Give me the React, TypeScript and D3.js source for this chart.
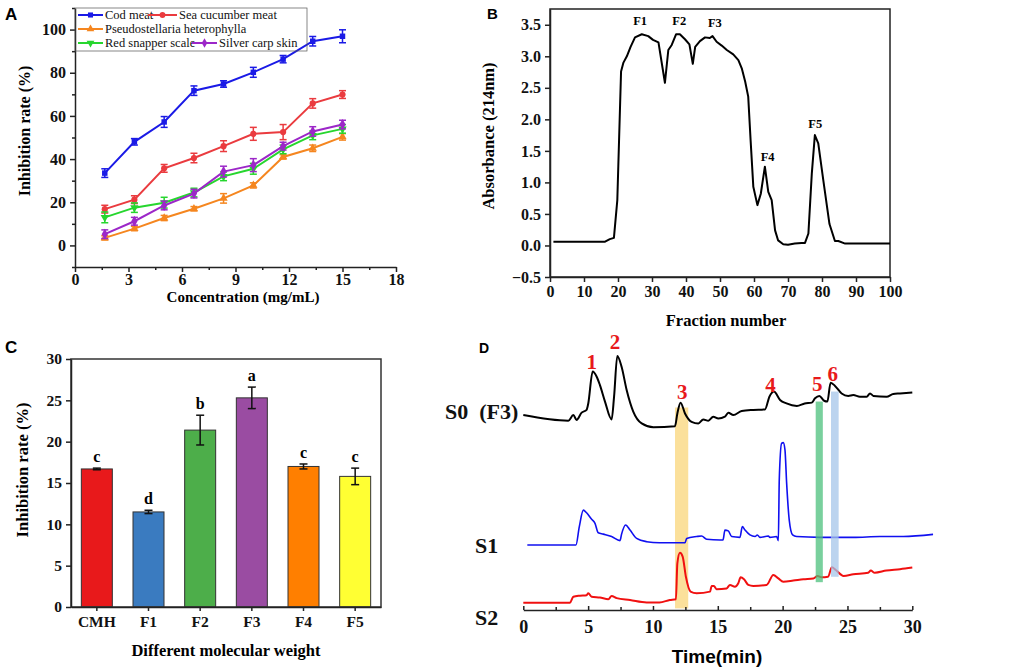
import { useEffect, useRef } from "react";
import * as d3 from "d3";

const SERIF = "'Liberation Serif', 'Times New Roman', serif";
const SANS = "'Liberation Sans', Arial, sans-serif";

// ---- panel A: inhibition vs concentration
const concentrations = [1.67, 3.33, 5, 6.67, 8.33, 10, 11.67, 13.33, 15];
const seriesNamesA = [
  "Cod meat",
  "Sea cucumber meat",
  "Pseudostellaria heterophylla",
  "Red snapper scale",
  "Silver carp skin",
];
const codMeat = [33.5, 48.0, 57.2, 71.7, 74.8, 80.2, 86.3, 94.6, 96.9];
const codMeatErr = [2.0, 1.5, 2.5, 2.2, 1.5, 2.3, 1.7, 2.2, 3.0];
const seaCucumber = [16.8, 21.2, 35.7, 40.5, 46.0, 51.7, 52.5, 65.8, 69.9];
const seaCucumberErr = [1.8, 1.8, 1.8, 2.2, 2.5, 3.0, 3.5, 2.2, 1.8];
const pseudostellaria = [3.5, 7.8, 12.7, 17.0, 21.8, 27.8, 41.0, 45.0, 50.3];
const pseudostellariaErr = [1.0, 1.0, 1.2, 1.0, 2.2, 1.2, 1.0, 1.5, 1.5];
const redSnapper = [13.0, 17.5, 19.8, 24.5, 32.0, 35.5, 44.5, 51.0, 54.0];
const redSnapperErr = [2.5, 2.2, 2.5, 2.0, 2.0, 2.5, 2.0, 2.0, 2.0];
const silverCarp = [5.2, 11.2, 18.5, 24.0, 34.2, 37.2, 46.0, 52.8, 56.0];
const silverCarpErr = [2.0, 1.8, 2.0, 2.0, 2.5, 3.0, 1.8, 2.2, 2.0];

// ---- panel B: gel filtration profile
const fractionNo = [
  1, 16.2, 17.6, 18.8, 19.8, 20.9, 21.6, 22.6, 23.7, 25, 27, 28.9, 30.3, 31.9,
  33.8, 34.8, 35.8, 37.1, 38.2, 39.7, 41, 42, 42.7, 44.1, 45.6, 47, 47.8, 49,
  50.5, 52, 53.9, 55.4, 56.4, 57.4, 58.3, 59, 59.8, 61, 62, 63.2, 64.2, 65.2,
  66.2, 67.1, 68.6, 70, 72, 74, 75, 76, 77, 77.9, 78.9, 80.4, 82.2, 83.8, 84.8,
  86.8, 89.7, 100,
];
const absorbance = [
  0.06, 0.06, 0.1, 0.12, 0.72, 2.76, 2.9, 3.0, 3.15, 3.3, 3.35, 3.32, 3.26, 3.22,
  2.58, 3.1, 3.18, 3.35, 3.35, 3.27, 3.19, 2.88, 3.15, 3.24, 3.3, 3.29, 3.32,
  3.23, 3.17, 3.1, 3.03, 2.94, 2.81, 2.6, 2.36, 1.67, 0.93, 0.64, 0.82, 1.25,
  0.85, 0.72, 0.24, 0.08, 0.02, 0.01, 0.03, 0.04, 0.04, 0.19, 1.14, 1.75, 1.62,
  1.03, 0.34, 0.07, 0.07, 0.03, 0.03, 0.03,
];
const fractionLabels = ["F1", "F2", "F3", "F4", "F5"];
const fractionLabelX = [26.5, 38, 48.5, 64, 78];
const fractionLabelY = [3.5, 3.5, 3.47, 1.34, 1.86];

// ---- panel C: inhibition by molecular weight fraction
const groupsC = ["CMH", "F1", "F2", "F3", "F4", "F5"];
const inhibitionC = [16.7, 11.5, 21.4, 25.3, 17.0, 15.8];
const inhibitionErrC = [0.1, 0.2, 1.8, 1.3, 0.3, 1.0];
const lettersC = ["c", "d", "b", "a", "c", "c"];
const colorsC = ["#e8191b", "#3a7bc0", "#4dae4a", "#9a4ca2", "#ff7f00", "#ffff33"];

// ---- panel D: RP-HPLC chromatograms
const s0Time = [
  0, 3.47, 3.86, 4.11, 4.5, 4.88, 5.01, 5.35, 5.66, 5.91, 6.3, 6.81, 7.0, 7.25,
  7.58, 7.97, 8.48, 9.13, 10.03, 11.7, 11.88, 12.13, 12.47, 12.98, 13.5, 13.88,
  14.27, 14.65, 15.04, 15.55, 15.81, 16.2, 16.84, 17.74, 18.64, 18.98, 19.33,
  19.8, 20.3, 21.1, 21.7, 22.25, 22.5, 22.83, 23.2, 23.45, 23.7, 24.04, 24.55,
  25.06, 25.45, 25.96, 26.48, 26.74, 27, 28.02, 28.53, 29.05, 30,
];
const s0Signal = [
  72.2, 70.1, 72.2, 70.4, 73.1, 74.1, 76.5, 88.3, 86.4, 83.3, 77.2, 70.6, 79,
  94.1, 90.1, 81.5, 73.5, 69.1, 67.7, 68.1, 72.8, 76.8, 72.8, 69.7, 69.1, 70.6,
  70.1, 71.6, 70.9, 71.6, 73.1, 72.2, 73.7, 74.1, 74.3, 79, 80.9, 77.8, 76.5,
  75.6, 76.5, 76.8, 78.4, 79.3, 77.5, 77.2, 84.2, 83, 80.2, 79.3, 79.6, 79, 79,
  80.2, 79.3, 79, 80, 80.2, 80.6,
];
const s1Time = [
  0.31, 4.06, 4.32, 4.63, 4.88, 5.27, 5.53, 5.78, 6.17, 6.81, 7.46, 7.58, 7.89,
  8.23, 8.74, 9.51, 10.5, 12.47, 12.6, 13.37, 13.75, 14.14, 15.17, 15.4, 15.55,
  15.81, 16.07, 16.71, 16.89, 17.1, 17.48, 17.87, 18.05, 18.25, 18.9, 19.02,
  19.54, 19.67, 19.74, 19.92, 20.05, 20.18, 20.31, 20.51, 20.77, 21.08, 22.88,
  25.45, 27.5, 29.3, 31.6,
];
const s1Signal = [
  24.1, 24.1, 30.9, 37, 36, 33.6, 32.1, 28.6, 28.1, 27.2, 25.7, 28.1, 31.5,
  29.6, 26.5, 25.3, 24.9, 24.9, 26.5, 27.2, 27.4, 26.2, 25.9, 25.9, 29.6, 29.3,
  27.2, 26.9, 30.9, 29.6, 27.8, 27.2, 27.8, 26.9, 27.4, 26.9, 27.2, 25.7, 48.1,
  61.7, 62, 59.3, 46.9, 33.3, 27.8, 27.2, 26.9, 26.9, 27.2, 27.2, 28,
];
const s2Time = [
  0, 3.6, 3.86, 4.37, 4.88, 5.01, 5.27, 5.91, 6.56, 6.81, 7.2, 8.23, 9.51, 10.5,
  11.3, 11.77, 11.88, 12.08, 12.29, 12.54, 12.9, 13.37, 14.4, 14.53, 14.7, 14.9,
  15.68, 15.94, 16.32, 16.58, 16.76, 17.02, 17.35, 17.74, 18.77, 19.28, 19.67,
  20.05, 20.82, 21.6, 22.37, 22.7, 23, 23.5, 23.8, 24.1, 24.7, 25.45, 26.6, 26.8,
  27.1, 28, 29.05, 30,
];
const s2Signal = [
  2.7, 2.7, 4.9, 5.3, 5.5, 6.2, 4.9, 4.6, 4.0, 5.2, 4.4, 3.7, 2.8, 2.8, 3.7, 4.0,
  17.3, 21.2, 19.8, 12.3, 6.8, 6.2, 6.8, 8.9, 8.9, 7.7, 8.0, 9.3, 8.6, 9.9, 12.1,
  11.4, 9.3, 8.9, 9.3, 13, 11.7, 10.5, 10.9, 11.4, 11.7, 12.6, 12.1, 12.3, 15.8,
  14.8, 12.6, 13.2, 13.8, 14.6, 13.8, 14.6, 15.1, 15.7,
];
const peakLabels = ["1", "2", "3", "4", "5", "6"];
const peakLabelTime = [5.27, 7.07, 12.26, 19.07, 22.67, 23.86];
const peakLabelLevel = [92, 99.4, 80.9, 83.3, 84, 87.7];
const bandStart = [11.7, 22.55, 23.73];
const bandEnd = [12.72, 23.1, 24.32];
const bandTop = [75, 77.2, 80.9];
const bandBottom = [0.6, 10.3, 12.3];
const bandColors = ["#f9d67a", "#4cc07c", "#a6c6ea"];

type Sel = d3.Selection<any, unknown, null, undefined>;

function styleAxis(g: Sel, size: number) {
  g.attr("font-family", SERIF).attr("font-size", size).attr("font-weight", "bold");
  g.selectAll("text")
    .attr("fill", "#111")
    .attr("font-family", SERIF)
    .attr("font-weight", "bold")
    .attr("font-size", size);
  g.selectAll("line").attr("stroke", "#222").attr("stroke-width", 1.5);
  g.selectAll("path.domain").attr("stroke", "#222").attr("stroke-width", 1.5);
}

function drawA(svg: Sel) {
  const x = d3.scaleLinear().domain([0, 18]).range([75, 396]);
  const y = d3.scaleLinear().domain([-10, 110]).range([267, 8]);
  const g = svg.append("g");

  const xa = g.append("g").attr("transform", `translate(0,${y(-10)})`)
    .call(d3.axisBottom(x).tickValues(d3.range(0, 19, 3)).tickSize(5).tickSizeOuter(0).tickPadding(2));
  styleAxis(xa, 16);
  const xm = g.append("g").attr("transform", `translate(0,${y(-10)})`)
    .call(d3.axisBottom(x).tickValues(d3.range(1.5, 18, 3)).tickSize(3).tickFormat(() => ""));
  xm.select(".domain").remove();
  styleAxis(xm, 16);

  const ya = g.append("g").attr("transform", `translate(${x(0)},0)`)
    .call(d3.axisLeft(y).tickValues(d3.range(0, 101, 20)).tickSize(5).tickSizeOuter(0).tickPadding(4));
  styleAxis(ya, 16);
  const ym = g.append("g").attr("transform", `translate(${x(0)},0)`)
    .call(d3.axisLeft(y).tickValues(d3.range(-10, 111, 20)).tickSize(3).tickFormat(() => ""));
  ym.select(".domain").remove();
  styleAxis(ym, 16);

  g.append("text").attr("transform", "translate(30,131) rotate(-90)")
    .attr("text-anchor", "middle").attr("font-family", SERIF).attr("font-weight", "bold")
    .attr("font-size", 16).text("Inhibition rate (%)");
  g.append("text").attr("x", 243).attr("y", 302).attr("text-anchor", "middle")
    .attr("font-family", SERIF).attr("font-weight", "bold").attr("font-size", 15)
    .text("Concentration (mg/mL)");

  const values = [codMeat, seaCucumber, pseudostellaria, redSnapper, silverCarp];
  const errs = [codMeatErr, seaCucumberErr, pseudostellariaErr, redSnapperErr, silverCarpErr];
  const colors = ["#1a1ae6", "#ea3b3f", "#f5861f", "#26d62e", "#9c27c8"];
  const symbols = [d3.symbolSquare, d3.symbolCircle, d3.symbolTriangle, d3.symbolTriangle, d3.symbolDiamond];
  const rotations = [0, 0, 0, 180, 0];

  const line = d3.line<number>().x((d, i) => x(concentrations[i])).y((d) => y(d));

  values.forEach((vals, s) => {
    const sg = g.append("g");
    sg.append("path").attr("d", line(vals)).attr("fill", "none")
      .attr("stroke", colors[s]).attr("stroke-width", 2);
    vals.forEach((v, i) => {
      const cx = x(concentrations[i]);
      const e = errs[s][i];
      sg.append("line").attr("x1", cx).attr("x2", cx).attr("y1", y(v - e)).attr("y2", y(v + e))
        .attr("stroke", colors[s]).attr("stroke-width", 1.5);
      [v - e, v + e].forEach((w) => {
        sg.append("line").attr("x1", cx - 3.5).attr("x2", cx + 3.5).attr("y1", y(w)).attr("y2", y(w))
          .attr("stroke", colors[s]).attr("stroke-width", 1.5);
      });
      sg.append("path").attr("d", d3.symbol(symbols[s], s === 4 ? 34 : 30)())
        .attr("transform", `translate(${cx},${y(v)}) rotate(${rotations[s]})`)
        .attr("fill", colors[s]);
    });
  });

  // legend
  const lg = g.append("g");
  lg.append("rect").attr("x", 75).attr("y", 8).attr("width", 232).attr("height", 43)
    .attr("fill", "none").attr("stroke", "#555").attr("stroke-width", 0.7);
  const legX1 = [78, 148, 78, 78, 192];
  const legX2 = [103, 177, 103, 103, 217];
  const legY = [15, 15, 29, 43, 43];
  seriesNamesA.forEach((name, s) => {
    lg.append("line").attr("x1", legX1[s]).attr("x2", legX2[s]).attr("y1", legY[s]).attr("y2", legY[s])
      .attr("stroke", colors[s]).attr("stroke-width", 2);
    lg.append("path").attr("d", d3.symbol(symbols[s], 26)())
      .attr("transform", `translate(${(legX1[s] + legX2[s]) / 2},${legY[s]}) rotate(${rotations[s]})`)
      .attr("fill", colors[s]);
    lg.append("text").attr("x", legX2[s] + 2).attr("y", legY[s] + 4)
      .attr("font-family", SERIF).attr("font-size", 12.5).attr("fill", "#111").text(name);
  });

  svg.append("text").attr("x", 5).attr("y", 20).attr("font-family", SANS).attr("font-weight", "bold")
    .attr("font-size", 17).text("A");
}

function drawB(svg: Sel) {
  const x = d3.scaleLinear().domain([0, 100]).range([550, 890]);
  const y = d3.scaleLinear().domain([-0.5, 3.75]).range([277, 9]);
  const g = svg.append("g");

  g.append("rect").attr("x", x(0)).attr("y", y(3.75)).attr("width", x(100) - x(0))
    .attr("height", y(-0.5) - y(3.75)).attr("fill", "none").attr("stroke", "#222").attr("stroke-width", 1.5);

  const xa = g.append("g").attr("transform", `translate(0,${y(-0.5)})`)
    .call(d3.axisBottom(x).tickValues(d3.range(0, 101, 10)).tickSize(5).tickSizeOuter(0).tickPadding(4));
  styleAxis(xa, 16);
  const ya = g.append("g").attr("transform", `translate(${x(0)},0)`)
    .call(d3.axisLeft(y).tickValues(d3.range(-0.5, 3.6, 0.5)).tickSize(5).tickSizeOuter(0)
      .tickPadding(4).tickFormat(d3.format(".1f")));
  styleAxis(ya, 16);

  const line = d3.line<number>().x((d, i) => x(fractionNo[i])).y((d) => y(d));
  g.append("path").attr("d", line(absorbance)).attr("fill", "none").attr("stroke", "#000")
    .attr("stroke-width", 2).attr("stroke-linejoin", "round");

  fractionLabels.forEach((lab, i) => {
    g.append("text").attr("x", x(fractionLabelX[i])).attr("y", y(fractionLabelY[i]))
      .attr("text-anchor", "middle").attr("font-family", SERIF).attr("font-weight", "bold")
      .attr("font-size", 12.5).text(lab);
  });

  g.append("text").attr("transform", "translate(494,136) rotate(-90)")
    .attr("text-anchor", "middle").attr("font-family", SERIF).attr("font-weight", "bold")
    .attr("font-size", 16.5).text("Absorbance (214nm)");
  g.append("text").attr("x", 726).attr("y", 326).attr("text-anchor", "middle")
    .attr("font-family", SERIF).attr("font-weight", "bold").attr("font-size", 16.5)
    .text("Fraction number");

  svg.append("text").attr("x", 487).attr("y", 19).attr("font-family", SANS).attr("font-weight", "bold")
    .attr("font-size", 15).text("B");
}

function drawC(svg: Sel) {
  const x = d3.scaleBand().domain(groupsC).range([71, 381]).paddingInner(0.4).paddingOuter(0.2);
  const y = d3.scaleLinear().domain([0, 30]).range([607, 359]);
  const g = svg.append("g");

  g.selectAll(".barC").data(inhibitionC).enter().append("rect")
    .attr("x", (d, i) => x(groupsC[i]) as number).attr("y", (d) => y(d))
    .attr("width", x.bandwidth()).attr("height", (d) => y(0) - y(d))
    .attr("fill", (d, i) => colorsC[i]).attr("stroke", "#333").attr("stroke-width", 1);

  inhibitionC.forEach((v, i) => {
    const cx = (x(groupsC[i]) as number) + x.bandwidth() / 2;
    const e = inhibitionErrC[i];
    g.append("line").attr("x1", cx).attr("x2", cx).attr("y1", y(v - e)).attr("y2", y(v + e))
      .attr("stroke", "#111").attr("stroke-width", 1.5);
    [v - e, v + e].forEach((w) => {
      g.append("line").attr("x1", cx - 4).attr("x2", cx + 4).attr("y1", y(w)).attr("y2", y(w))
        .attr("stroke", "#111").attr("stroke-width", 1.5);
    });
    g.append("text").attr("x", cx).attr("y", y(v + e) - 6).attr("text-anchor", "middle")
      .attr("font-family", SERIF).attr("font-weight", "bold").attr("font-size", 16).text(lettersC[i]);
  });

  g.append("rect").attr("x", 71).attr("y", y(30)).attr("width", 310).attr("height", y(0) - y(30))
    .attr("fill", "none").attr("stroke", "#333").attr("stroke-width", 1.5);

  const xa = g.append("g").attr("transform", `translate(0,${y(0)})`)
    .call(d3.axisBottom(x).tickSize(4).tickSizeOuter(0).tickPadding(5));
  styleAxis(xa, 15.5);
  const ya = g.append("g").attr("transform", "translate(71,0)")
    .call(d3.axisLeft(y).tickValues(d3.range(0, 31, 5)).tickSize(5).tickSizeOuter(0).tickPadding(4));
  styleAxis(ya, 15.5);

  g.append("text").attr("transform", "translate(28,470) rotate(-90)")
    .attr("text-anchor", "middle").attr("font-family", SERIF).attr("font-weight", "bold")
    .attr("font-size", 16.5).text("Inhibition rate (%)");
  g.append("text").attr("x", 226).attr("y", 656).attr("text-anchor", "middle")
    .attr("font-family", SERIF).attr("font-weight", "bold").attr("font-size", 16.5)
    .text("Different molecular weight");

  svg.append("text").attr("x", 5).attr("y", 353).attr("font-family", SANS).attr("font-weight", "bold")
    .attr("font-size", 17).text("C");
}

function drawD(svg: Sel) {
  const x = d3.scaleLinear().domain([0, 30]).range([523.3, 912.3]);
  const y = d3.scaleLinear().domain([0, 100]).range([610, 340]);
  const g = svg.append("g");

  const band = (i: number) =>
    g.append("rect").attr("x", x(bandStart[i])).attr("y", y(bandTop[i]))
      .attr("width", x(bandEnd[i]) - x(bandStart[i])).attr("height", y(bandBottom[i]) - y(bandTop[i]))
      .attr("fill", bandColors[i]).attr("opacity", 0.75);
  band(0);

  const line = (times: number[]) =>
    d3.line<number>().x((d, i) => x(times[i])).y((d) => y(d)).curve(d3.curveMonotoneX);
  g.append("path").attr("d", line(s0Time)(s0Signal)).attr("fill", "none").attr("stroke", "#000")
    .attr("stroke-width", 2);
  g.append("path").attr("d", line(s1Time)(s1Signal)).attr("fill", "none").attr("stroke", "#1010f0")
    .attr("stroke-width", 1.6);
  g.append("path").attr("d", line(s2Time)(s2Signal)).attr("fill", "none").attr("stroke", "#f01010")
    .attr("stroke-width", 2);
  band(1);
  band(2);

  const xa = g.append("g").attr("transform", `translate(0,${y(0)})`)
    .call(d3.axisBottom(x).tickValues(d3.range(0, 31, 5)).tickSizeInner(-4).tickSizeOuter(0).tickPadding(10));
  styleAxis(xa, 18);
  xa.selectAll("text").attr("dy", "0.71em");
  const xm = g.append("g").attr("transform", `translate(0,${y(0)})`)
    .call(d3.axisBottom(x).tickValues(d3.range(2.5, 30, 5)).tickSize(-3).tickFormat(() => ""));
  xm.select(".domain").remove();
  styleAxis(xm, 18);

  peakLabels.forEach((lab, i) => {
    g.append("text").attr("x", x(peakLabelTime[i])).attr("y", y(peakLabelLevel[i]))
      .attr("dy", "0.35em").attr("text-anchor", "middle").attr("font-family", SERIF)
      .attr("font-weight", "bold").attr("font-size", 21).attr("fill", "#e8191b").text(lab);
  });

  const traceNames = ["S0\u00A0\u00A0(F3)", "S1", "S2"];
  const traceNameX = [445, 475, 475];
  const traceNameY = [419, 553, 625];
  traceNames.forEach((n, i) => {
    g.append("text").attr("x", traceNameX[i]).attr("y", traceNameY[i]).attr("font-family", SERIF)
      .attr("font-weight", "bold").attr("font-size", 22).attr("fill", "#111").text(n);
  });

  g.append("text").attr("x", 717).attr("y", 663).attr("text-anchor", "middle")
    .attr("font-family", SANS).attr("font-weight", "bold").attr("font-size", 19).text("Time(min)");

  svg.append("text").attr("x", 479).attr("y", 353).attr("font-family", SANS).attr("font-weight", "bold")
    .attr("font-size", 14).text("D");
}

export default function App() {
  const ref = useRef<SVGSVGElement>(null);

  useEffect(() => {
    const svg = d3.select(ref.current) as unknown as Sel;
    svg.selectAll("*").remove();
    drawA(svg);
    drawB(svg);
    drawC(svg);
    drawD(svg);
  }, []);

  return (
    <svg
      ref={ref}
      width={1021}
      height={669}
      style={{ position: "absolute", left: 0, top: 0, background: "#fff" }}
    />
  );
}
